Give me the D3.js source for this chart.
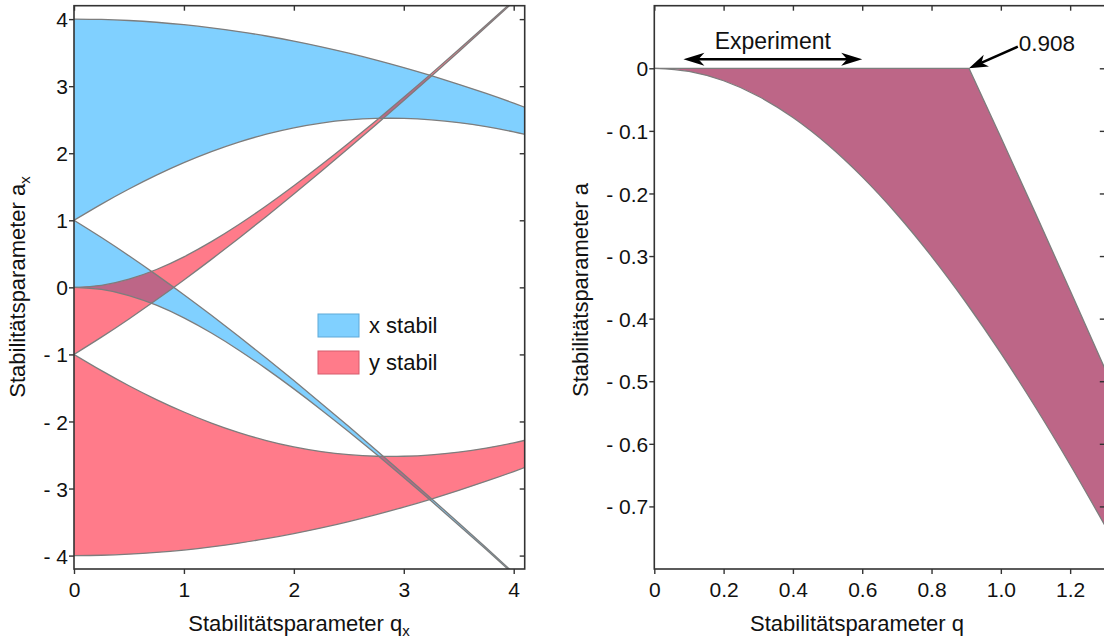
<!DOCTYPE html>
<html>
<head>
<meta charset="utf-8">
<script src="https://cdn.jsdelivr.net/npm/d3@7"></script>
<style>
  html, body { margin: 0; padding: 0; background: #fff; }
  svg { display: block; font-family: "Liberation Sans", Arial, Helvetica, sans-serif; }
</style>
</head>
<body>
<svg id="chart" width="1104" height="643"></svg>
<script>
// Mathieu characteristic values (boundaries of the stability regions), q step 0.25
const qGrid = [0, 0.25, 0.5, 0.75, 1, 1.25, 1.5, 1.75, 2, 2.25, 2.5, 2.75, 3, 3.25, 3.5, 3.75, 4, 4.25];
const a0 = [0, -0.0310, -0.1218, -0.2659, -0.4551, -0.6812, -0.9368, -1.2160, -1.5140, -1.8273, -2.1531, -2.4893, -2.8344, -3.1870, -3.5460, -3.9108, -4.2805, -4.6548];
const b1 = [1, 0.7424, 0.4707, 0.1860, -0.1102, -0.4170, -0.7333, -1.0581, -1.3907, -1.7303, -2.0763, -2.4282, -2.7854, -3.1475, -3.5140, -3.8847, -4.2592, -4.6373];
const a1 = [1, 1.2419, 1.4668, 1.6730, 1.8591, 2.0238, 2.1659, 2.2846, 2.3792, 2.4496, 2.4959, 2.5188, 2.5190, 2.4978, 2.4563, 2.3959, 2.3180, 2.2240];
const b2 = [4, 3.9948, 3.9792, 3.9532, 3.9170, 3.8707, 3.8143, 3.7481, 3.6723, 3.5870, 3.4925, 3.3890, 3.2769, 3.1563, 3.0276, 2.8912, 2.7469, 2.5953];

// Close-up of the first stability region (right panel)
const qFine = [0, 0.1, 0.2, 0.3, 0.4, 0.5, 0.6, 0.7, 0.8, 0.9, 1.0, 1.1, 1.2, 1.3];
const a0Fine = [0, -0.0050, -0.0199, -0.0446, -0.0787, -0.1218, -0.1735, -0.2332, -0.3004, -0.3746, -0.4551, -0.5416, -0.6334, -0.7302];
const qEdge = [0.908, 1.0, 1.1, 1.2, 1.3];
const b1Edge = [0, -0.1102, -0.2318, -0.3549, -0.4795];
const qLimit = 0.908;
const experimentRange = [0.084, 0.6];

// Ticks and labels
const qTicksL = [0, 1, 2, 3, 4];
const aTicksL = [-4, -3, -2, -1, 0, 1, 2, 3, 4];
const qTicksR = [0, 0.2, 0.4, 0.6, 0.8, 1.0, 1.2];
const aTicksR = [0, -0.1, -0.2, -0.3, -0.4, -0.5, -0.6, -0.7];
const legendLabels = ["x stabil", "y stabil"];

const FONT = '"Liberation Sans", Arial, Helvetica, sans-serif';
const FRAME = "#333333", EDGE = "#7d7d7d";
const BLUE = "#80d0ff", RED = "#ff7b8a", MIX = "#bd6687";
const BLUE_EDGE = "#5fa9d8", RED_EDGE = "#d65d6d";

const svg = d3.select("#chart");
const defs = svg.append("defs");

const xL = d3.scaleLinear().domain([0, 4.1]).range([74, 524.7]);
const yL = d3.scaleLinear().domain([-4.2, 4.2]).range([569, 5.7]);
const xR = d3.scaleLinear().domain([0, 1.3]).range([654.3, 1104.8]);
const yR = d3.scaleLinear().domain([-0.8, 0.1]).range([569, 5.7]);

function plotClip(id, x, y) {
  defs.append("clipPath").attr("id", id).append("rect")
    .attr("x", x.range()[0]).attr("y", y.range()[1])
    .attr("width", x.range()[1] - x.range()[0])
    .attr("height", y.range()[0] - y.range()[1]);
}
plotClip("clipL", xL, yL);
plotClip("clipR", xR, yR);

// ---------- left panel: stability regions in x and y ----------
const idx = d3.range(qGrid.length);
const neg = v => v.map(d => -d);
const areaL = (lo, hi) => d3.area().curve(d3.curveNatural)
  .x(i => xL(qGrid[i])).y0(i => yL(lo[i])).y1(i => yL(hi[i]))(idx);
const lineL = v => d3.line().curve(d3.curveNatural)
  .x(i => xL(qGrid[i])).y(i => yL(v[i]))(idx);

const xRegions = [[a0, b1], [a1, b2]];
const yRegions = [[neg(b1), neg(a0)], [neg(b2), neg(a1)]];

const yClip = defs.append("clipPath").attr("id", "yStable");
yRegions.forEach(r => yClip.append("path").attr("d", areaL(...r)));

const gL = svg.append("g").attr("clip-path", "url(#clipL)");
xRegions.forEach(r => gL.append("path").attr("d", areaL(...r)).attr("fill", BLUE));
yRegions.forEach(r => gL.append("path").attr("d", areaL(...r)).attr("fill", RED));
const gMix = gL.append("g").attr("clip-path", "url(#yStable)");
xRegions.forEach(r => gMix.append("path").attr("d", areaL(...r)).attr("fill", MIX));
[a0, b1, a1, b2].forEach(v => {
  [v, neg(v)].forEach(c => gL.append("path").attr("d", lineL(c))
    .attr("fill", "none").attr("stroke", EDGE).attr("stroke-width", 1.3));
});

// ---------- right panel: region stable in both directions ----------
const monoR = d3.line().curve(d3.curveMonotoneX).x(d => xR(d[0])).y(d => yR(d[1]));
const topEdge = [[0, 0], [qLimit, 0]];
const sideEdge = qEdge.map((q, i) => [q, b1Edge[i]]);
const lowEdge = qFine.map((q, i) => [q, a0Fine[i]]);
const regionD = d3.line().x(d => xR(d[0])).y(d => yR(d[1]))(topEdge)
  + monoR(sideEdge).replace(/^M/, "L")
  + monoR(lowEdge.slice().reverse()).replace(/^M/, "L") + "Z";

const gR = svg.append("g").attr("clip-path", "url(#clipR)");
gR.append("path").attr("d", regionD).attr("fill", MIX);
[d3.line().x(d => xR(d[0])).y(d => yR(d[1]))(topEdge), monoR(sideEdge), monoR(lowEdge)]
  .forEach(d => gR.append("path").attr("d", d).attr("fill", "none")
    .attr("stroke", EDGE).attr("stroke-width", 1.3));

// ---------- axes and frames ----------
const fmtInt = d => d < 0 ? "- " + Math.abs(d) : String(d);
const fmtDec = d => d === 0 ? "0" : (d < 0 ? "- " : "") + Math.abs(d).toFixed(1);

function frame(x, y, xt, yt, fx, fy) {
  const [X0, X1] = x.range(), [Y0, Y1] = y.range();
  const gb = svg.append("g").attr("transform", `translate(0,${Y0})`)
    .call(d3.axisBottom(x).tickValues(xt).tickSize(5).tickFormat(fx));
  const gt = svg.append("g").attr("transform", `translate(0,${Y1})`)
    .call(d3.axisTop(x).tickValues(xt).tickSize(-5).tickFormat(""));
  const gl = svg.append("g").attr("transform", `translate(${X0},0)`)
    .call(d3.axisLeft(y).tickValues(yt).tickSize(5).tickFormat(fy));
  const gr = svg.append("g").attr("transform", `translate(${X1},0)`)
    .call(d3.axisRight(y).tickValues(yt).tickSize(-5).tickFormat(""));
  [gb, gt, gl, gr].forEach(g => {
    g.select(".domain").remove();
    g.attr("font-family", FONT).attr("font-size", 21);
    g.selectAll(".tick line").attr("stroke", FRAME).attr("stroke-width", 1.4);
    g.selectAll(".tick text").attr("fill", "#111");
  });
  gb.selectAll(".tick text").attr("y", 28).attr("dy", null);
  gl.selectAll(".tick text").attr("x", -6).attr("dy", "0.36em");
  svg.append("rect").attr("x", X0).attr("y", Y1)
    .attr("width", X1 - X0).attr("height", Y0 - Y1)
    .attr("fill", "none").attr("stroke", FRAME).attr("stroke-width", 1.6);
}
frame(xL, yL, qTicksL, aTicksL, fmtInt, fmtInt);
frame(xR, yR, qTicksR, aTicksR, fmtDec, fmtDec);

// ---------- axis titles ----------
function title(x, y, rot, main, sub) {
  const t = svg.append("text").attr("font-family", FONT).attr("font-size", 22)
    .attr("text-anchor", "middle").attr("fill", "#111")
    .attr("transform", `translate(${x},${y}) rotate(${rot})`).text(main);
  if (sub) t.append("tspan").attr("font-size", 15).attr("dy", 5).text(sub);
}
title(299, 631, 0, "Stabilitätsparameter q", "x");
title(25, 287, -90, "Stabilitätsparameter a", "x");
title(857, 631, 0, "Stabilitätsparameter q");
title(588, 290, -90, "Stabilitätsparameter a");

// ---------- legend ----------
const leg = svg.append("g").attr("transform", "translate(318,314)");
[[BLUE, BLUE_EDGE], [RED, RED_EDGE]].forEach(([fill, stroke], i) => {
  leg.append("rect").attr("x", 0).attr("y", i * 37).attr("width", 41).attr("height", 23)
    .attr("fill", fill).attr("stroke", stroke).attr("stroke-width", 1);
  leg.append("text").attr("x", 51).attr("y", i * 37 + 19).attr("font-family", FONT)
    .attr("font-size", 22).attr("fill", "#111").text(legendLabels[i]);
});

// ---------- annotations ----------
function head(tip, from, len, half) {
  const dx = tip[0] - from[0], dy = tip[1] - from[1], L = Math.hypot(dx, dy);
  const ux = dx / L, uy = dy / L, px = -uy, py = ux;
  const bx = tip[0] - ux * len, by = tip[1] - uy * len;
  const nx = tip[0] - ux * len * 0.72, ny = tip[1] - uy * len * 0.72;
  return `M${tip[0]},${tip[1]}L${bx + px * half},${by + py * half}L${nx},${ny}L${bx - px * half},${by - py * half}Z`;
}
const ann = svg.append("g");
const ay = yR(0.0145);
const e0 = [xR(experimentRange[0]), ay], e1 = [xR(experimentRange[1]), ay];
ann.append("line").attr("x1", e0[0] + 12).attr("x2", e1[0] - 12).attr("y1", ay).attr("y2", ay)
  .attr("stroke", "#000").attr("stroke-width", 2.4);
ann.append("path").attr("d", head(e0, e1, 21, 6.5)).attr("fill", "#000");
ann.append("path").attr("d", head(e1, e0, 21, 6.5)).attr("fill", "#000");
ann.append("text").attr("x", (e0[0] + e1[0]) / 2).attr("y", 49).attr("text-anchor", "middle")
  .attr("font-family", FONT).attr("font-size", 23).attr("fill", "#111").text("Experiment");

const tip = [xR(qLimit), yR(0)], tail = [xR(1.049), yR(0.0345)];
ann.append("line").attr("x1", tail[0]).attr("y1", tail[1])
  .attr("x2", tip[0] + (tail[0] - tip[0]) * 0.25).attr("y2", tip[1] + (tail[1] - tip[1]) * 0.25)
  .attr("stroke", "#000").attr("stroke-width", 2.4);
ann.append("path").attr("d", head(tip, tail, 19, 6.5)).attr("fill", "#000");
ann.append("text").attr("x", tail[0] + 1).attr("y", 51).attr("font-family", FONT)
  .attr("font-size", 22.5).attr("fill", "#111").text(String(qLimit));
</script>
</body>
</html>
